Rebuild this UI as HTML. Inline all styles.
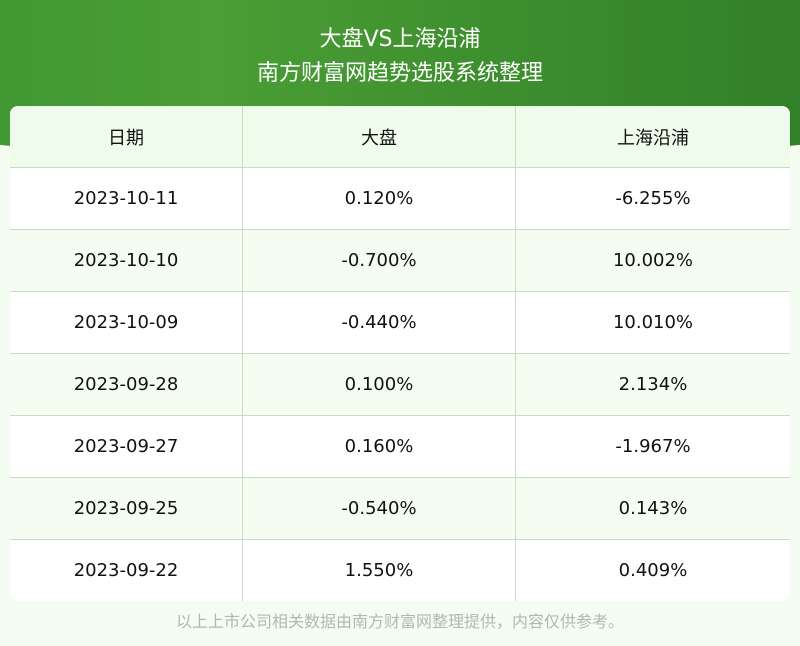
<!DOCTYPE html>
<html><head><meta charset="utf-8"><style>
body{margin:0;width:800px;height:646px;background:#f4fdf1;font-family:"DejaVu Sans","Noto Sans CJK SC",sans-serif;position:relative;overflow:hidden}
.hdr{position:absolute;left:-60px;top:-40px;width:920px;height:200px;background:linear-gradient(90deg,#3f9632 0%,#4a9e35 30%,#3d8f2e 60%,#2f7d26 100%);border-radius:0 0 50% 50%/0 0 30px 30px}
.hdr2{position:absolute;left:-40px;top:120px;width:880px;height:45px;background:#d8f2cc;border-radius:0 0 50% 50%/0 0 40px 40px;z-index:0}
.t1,.t2{position:absolute;width:800px;text-align:center;color:#fff;font-size:22px;z-index:2}
.t1{top:21px}.t2{top:55px}
table{position:absolute;left:10px;top:106px;width:780px;border-collapse:collapse;z-index:3;background:#fff;border-radius:8px;overflow:hidden}
td{height:61px;border:1px solid #c9dcc2;text-align:center;font-size:18px;color:#111;padding:0}
tr:first-child td{border-top:none}
td:first-child{border-left:none;width:232px}td:nth-child(2){width:272px}td:last-child{border-right:none}
tr.g td{background:#f5fdf2}
tr.h td{background:#effbeb;height:61px}
.f{position:absolute;top:608px;width:800px;text-align:center;font-size:16px;color:#b5b5b5}
</style></head><body>
<div class="hdr2"></div><div class="hdr"></div>
<div class="t1">大盘VS上海沿浦</div>
<div class="t2">南方财富网趋势选股系统整理</div>
<table>
<tr class="h"><td>日期</td><td>大盘</td><td>上海沿浦</td></tr>
<tr><td>2023-10-11</td><td>0.120%</td><td>-6.255%</td></tr>
<tr class="g"><td>2023-10-10</td><td>-0.700%</td><td>10.002%</td></tr>
<tr><td>2023-10-09</td><td>-0.440%</td><td>10.010%</td></tr>
<tr class="g"><td>2023-09-28</td><td>0.100%</td><td>2.134%</td></tr>
<tr><td>2023-09-27</td><td>0.160%</td><td>-1.967%</td></tr>
<tr class="g"><td>2023-09-25</td><td>-0.540%</td><td>0.143%</td></tr>
<tr><td style="border-bottom:none">2023-09-22</td><td style="border-bottom:none">1.550%</td><td style="border-bottom:none">0.409%</td></tr>
</table>
<div class="f">以上上市公司相关数据由南方财富网整理提供，内容仅供参考。</div>
</body></html>
